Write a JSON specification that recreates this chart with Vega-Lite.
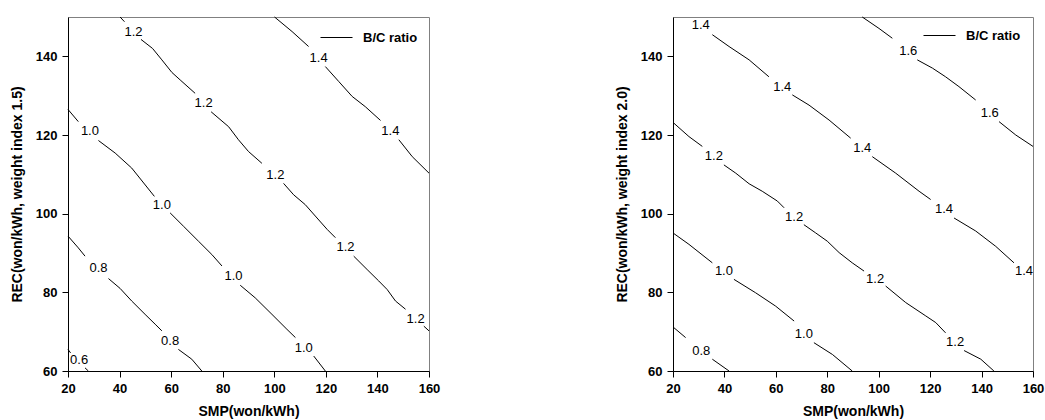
{
  "$schema": "https://vega.github.io/schema/vega-lite/v6.json",
  "padding": {"left": 9, "top": 14, "right": 0, "bottom": 0},
  "background": "white",
  "bounds": "flush",
  "spacing": 244,
  "config": {
    "font": "Liberation Sans",
    "view": {"stroke": "#808080", "strokeWidth": 1},
    "axis": {
      "grid": false,
      "labelFlush": false,
      "domainColor": "black",
      "tickColor": "black",
      "tickSize": 6,
      "labelFont": "Liberation Sans",
      "labelFontSize": 13,
      "labelFontWeight": "bold",
      "labelColor": "black",
      "labelPadding": 5,
      "titleFont": "Liberation Sans",
      "titleFontSize": 14,
      "titleFontWeight": "bold",
      "titleColor": "black"
    },
    "axisX": {"titlePadding": 9},
    "axisY": {"titlePadding": 11},
    "legend": {
      "orient": "none",
      "title": null,
      "symbolType": "stroke",
      "symbolSize": 1024,
      "symbolStrokeWidth": 1,
      "symbolStrokeColor": "black",
      "labelFont": "Liberation Sans",
      "labelFontSize": 13,
      "labelFontWeight": "bold",
      "labelColor": "black",
      "labelOffset": 10,
      "padding": 0
    }
  },
  "resolve": {"scale": {"color": "independent"}, "legend": {"color": "independent"}},
  "datasets": {
    "leftLines": [
      {"s": "L12a", "x": 40.2, "y": 150}, {"s": "L12a", "x": 41.9, "y": 148.8},
      {"s": "L12b", "x": 48.3, "y": 144.3}, {"s": "L12b", "x": 52.8, "y": 142.0}, {"s": "L12b", "x": 56.4, "y": 139.1}, {"s": "L12b", "x": 60.3, "y": 135.9}, {"s": "L12b", "x": 63.5, "y": 134.0}, {"s": "L12b", "x": 69.3, "y": 130.6},
      {"s": "L12c", "x": 75.5, "y": 125.9}, {"s": "L12c", "x": 82.3, "y": 122.1}, {"s": "L12c", "x": 86.1, "y": 118.8}, {"s": "L12c", "x": 90.0, "y": 115.8}, {"s": "L12c", "x": 95.2, "y": 112.8},
      {"s": "L12d", "x": 103.6, "y": 107.7}, {"s": "L12d", "x": 107.5, "y": 104.8}, {"s": "L12d", "x": 112.0, "y": 102.3}, {"s": "L12d", "x": 115.9, "y": 99.4}, {"s": "L12d", "x": 120.5, "y": 96.0}, {"s": "L12d", "x": 123.7, "y": 93.9},
      {"s": "L12e", "x": 130.8, "y": 89.2}, {"s": "L12e", "x": 136.0, "y": 85.8}, {"s": "L12e", "x": 140.5, "y": 82.9}, {"s": "L12e", "x": 143.8, "y": 80.7}, {"s": "L12e", "x": 147.0, "y": 77.8}, {"s": "L12e", "x": 150.9, "y": 75.7},
      {"s": "L12f", "x": 158.0, "y": 71.4}, {"s": "L12f", "x": 160, "y": 70.2},
      {"s": "L14a", "x": 100.1, "y": 150}, {"s": "L14a", "x": 106.9, "y": 146.3}, {"s": "L14a", "x": 113.3, "y": 142.5},
      {"s": "L14b", "x": 119.8, "y": 137.4}, {"s": "L14b", "x": 125.0, "y": 133.6}, {"s": "L14b", "x": 130.2, "y": 129.8}, {"s": "L14b", "x": 135.3, "y": 127.2}, {"s": "L14b", "x": 141.2, "y": 123.7},
      {"s": "L14c", "x": 148.3, "y": 118.8}, {"s": "L14c", "x": 153.5, "y": 114.5}, {"s": "L14c", "x": 160, "y": 110.3},
      {"s": "L10a", "x": 20, "y": 126.5}, {"s": "L10a", "x": 24.0, "y": 123.4},
      {"s": "L10b", "x": 31.8, "y": 118.6}, {"s": "L10b", "x": 38.3, "y": 115.4}, {"s": "L10b", "x": 44.7, "y": 111.6}, {"s": "L10b", "x": 53.5, "y": 104.4},
      {"s": "L10c", "x": 59.6, "y": 100.2}, {"s": "L10c", "x": 64.8, "y": 96.8}, {"s": "L10c", "x": 70.6, "y": 93.0}, {"s": "L10c", "x": 75.8, "y": 89.6}, {"s": "L10c", "x": 79.7, "y": 86.7},
      {"s": "L10d", "x": 86.8, "y": 81.8}, {"s": "L10d", "x": 92.6, "y": 78.6}, {"s": "L10d", "x": 99.1, "y": 74.4}, {"s": "L10d", "x": 104.9, "y": 70.6}, {"s": "L10d", "x": 108.2, "y": 68.5},
      {"s": "L10e", "x": 115.3, "y": 63.8}, {"s": "L10e", "x": 119.8, "y": 60},
      {"s": "L08a", "x": 20, "y": 94.3}, {"s": "L08a", "x": 24.0, "y": 91.3}, {"s": "L08a", "x": 26.6, "y": 89.2},
      {"s": "L08b", "x": 35.7, "y": 83.5}, {"s": "L08b", "x": 40.2, "y": 81.0}, {"s": "L08b", "x": 44.7, "y": 77.8}, {"s": "L08b", "x": 49.9, "y": 74.4}, {"s": "L08b", "x": 53.8, "y": 71.9}, {"s": "L08b", "x": 56.4, "y": 70.2},
      {"s": "L08c", "x": 62.8, "y": 65.5}, {"s": "L08c", "x": 68.0, "y": 63.0}, {"s": "L08c", "x": 71.9, "y": 60},
      {"s": "L06a", "x": 20, "y": 65.5}, {"s": "L06a", "x": 21.0, "y": 64.6},
      {"s": "L06b", "x": 26.6, "y": 60.8}, {"s": "L06b", "x": 27.9, "y": 60}
    ],
    "leftLabels": [
      {"t": "1.2", "x": 45.4, "y": 146.3}, {"t": "1.2", "x": 72.6, "y": 128.2}, {"t": "1.2", "x": 100.4, "y": 109.9}, {"t": "1.2", "x": 127.6, "y": 91.5}, {"t": "1.2", "x": 154.8, "y": 73.1},
      {"t": "1.4", "x": 117.2, "y": 139.7}, {"t": "1.4", "x": 145.0, "y": 121.1},
      {"t": "1.0", "x": 28.5, "y": 120.9}, {"t": "1.0", "x": 56.4, "y": 102.3}, {"t": "1.0", "x": 84.2, "y": 84.1}, {"t": "1.0", "x": 111.4, "y": 65.9},
      {"t": "0.8", "x": 31.8, "y": 86.1}, {"t": "0.8", "x": 59.6, "y": 67.6},
      {"t": "0.6", "x": 24.3, "y": 62.7}
    ],
    "rightLines": [
      {"s": "R14b", "x": 35.3, "y": 145.5}, {"s": "R14b", "x": 41.8, "y": 142.5}, {"s": "R14b", "x": 49.6, "y": 139.1}, {"s": "R14b", "x": 57.3, "y": 134.8},
      {"s": "R14c", "x": 66.4, "y": 130.2}, {"s": "R14c", "x": 72.9, "y": 127.6}, {"s": "R14c", "x": 80.7, "y": 123.8}, {"s": "R14c", "x": 89.1, "y": 119.2},
      {"s": "R14d", "x": 97.5, "y": 114.5}, {"s": "R14d", "x": 106.6, "y": 110.3}, {"s": "R14d", "x": 115.7, "y": 105.7}, {"s": "R14d", "x": 120.2, "y": 103.6},
      {"s": "R14e", "x": 129.3, "y": 98.9}, {"s": "R14e", "x": 137.7, "y": 95.6}, {"s": "R14e", "x": 145.5, "y": 91.7}, {"s": "R14e", "x": 152.6, "y": 87.5},
      {"s": "R16a", "x": 93.6, "y": 150}, {"s": "R16a", "x": 100.1, "y": 147.1}, {"s": "R16a", "x": 105.3, "y": 144.6},
      {"s": "R16b", "x": 115.0, "y": 139.1}, {"s": "R16b", "x": 120.9, "y": 137.0}, {"s": "R16b", "x": 126.0, "y": 134.8}, {"s": "R16b", "x": 131.2, "y": 132.3}, {"s": "R16b", "x": 137.7, "y": 128.9},
      {"s": "R16c", "x": 146.8, "y": 123.4}, {"s": "R16c", "x": 153.3, "y": 120.0}, {"s": "R16c", "x": 160, "y": 117.1},
      {"s": "R12a", "x": 20, "y": 123.2}, {"s": "R12a", "x": 26.2, "y": 119.6}, {"s": "R12a", "x": 31.4, "y": 117.1},
      {"s": "R12b", "x": 39.8, "y": 112.4}, {"s": "R12b", "x": 44.4, "y": 110.3}, {"s": "R12b", "x": 49.6, "y": 107.6}, {"s": "R12b", "x": 54.7, "y": 105.7}, {"s": "R12b", "x": 60.6, "y": 103.2}, {"s": "R12b", "x": 63.2, "y": 101.5},
      {"s": "R12c", "x": 70.9, "y": 97.2}, {"s": "R12c", "x": 75.5, "y": 95.1}, {"s": "R12c", "x": 80.0, "y": 93.0}, {"s": "R12c", "x": 84.6, "y": 90.1}, {"s": "R12c", "x": 89.7, "y": 87.5}, {"s": "R12c", "x": 94.3, "y": 85.4},
      {"s": "R12d", "x": 102.7, "y": 81.6}, {"s": "R12d", "x": 110.5, "y": 77.4}, {"s": "R12d", "x": 118.3, "y": 74.0}, {"s": "R12d", "x": 122.2, "y": 72.3}, {"s": "R12d", "x": 126.0, "y": 69.7},
      {"s": "R12e", "x": 133.2, "y": 65.2}, {"s": "R12e", "x": 139.7, "y": 63.0}, {"s": "R12e", "x": 144.8, "y": 60},
      {"s": "R10a", "x": 20, "y": 95.1}, {"s": "R10a", "x": 26.2, "y": 92.2}, {"s": "R10a", "x": 35.3, "y": 87.5},
      {"s": "R10b", "x": 43.7, "y": 83.3}, {"s": "R10b", "x": 52.1, "y": 79.9}, {"s": "R10b", "x": 59.9, "y": 76.5}, {"s": "R10b", "x": 67.1, "y": 72.7},
      {"s": "R10c", "x": 74.8, "y": 67.2}, {"s": "R10c", "x": 82.0, "y": 64.2}, {"s": "R10c", "x": 89.7, "y": 60},
      {"s": "R08a", "x": 20, "y": 71.2}, {"s": "R08a", "x": 24.9, "y": 68.5},
      {"s": "R08b", "x": 35.3, "y": 63.0}, {"s": "R08b", "x": 41.8, "y": 60}
    ],
    "rightLabels": [
      {"t": "1.4", "x": 30.8, "y": 148.0}, {"t": "1.4", "x": 62.5, "y": 132.3}, {"t": "1.4", "x": 93.6, "y": 116.6}, {"t": "1.4", "x": 125.4, "y": 101.1}, {"t": "1.4", "x": 156.5, "y": 85.4},
      {"t": "1.6", "x": 111.5, "y": 141.4}, {"t": "1.6", "x": 143.2, "y": 125.7},
      {"t": "1.2", "x": 35.9, "y": 114.7}, {"t": "1.2", "x": 67.1, "y": 99.1}, {"t": "1.2", "x": 98.6, "y": 83.5}, {"t": "1.2", "x": 129.7, "y": 67.4},
      {"t": "1.0", "x": 39.8, "y": 85.4}, {"t": "1.0", "x": 70.9, "y": 69.5},
      {"t": "0.8", "x": 31.0, "y": 65.2}
    ]
  },
  "hconcat": [
    {
      "width": 361,
      "height": 354,
      "layer": [
        {
          "data": {"name": "leftLines"},
          "mark": {"type": "line", "strokeWidth": 1, "interpolate": "linear"},
          "encoding": {
            "x": {"field": "x", "type": "quantitative", "scale": {"domain": [20, 160], "nice": false, "zero": false}, "axis": {"values": [20, 40, 60, 80, 100, 120, 140, 160], "title": "SMP(won/kWh)"}},
            "y": {"field": "y", "type": "quantitative", "scale": {"domain": [60, 150], "nice": false, "zero": false}, "axis": {"values": [60, 80, 100, 120, 140], "title": "REC(won/kWh, weight index 1.5)"}},
            "detail": {"field": "s", "type": "nominal"},
            "color": {"datum": "B/C ratio", "type": "nominal", "scale": {"range": ["black"]}, "legend": {"legendX": 252, "legendY": 4}}
          }
        },
        {
          "data": {"name": "leftLabels"},
          "mark": {"type": "text", "font": "Liberation Sans", "fontSize": 13, "color": "black", "align": "center", "baseline": "middle"},
          "encoding": {
            "x": {"field": "x", "type": "quantitative"},
            "y": {"field": "y", "type": "quantitative"},
            "text": {"field": "t", "type": "nominal"}
          }
        }
      ]
    },
    {
      "width": 360,
      "height": 354,
      "layer": [
        {
          "data": {"name": "rightLines"},
          "mark": {"type": "line", "strokeWidth": 1, "interpolate": "linear"},
          "encoding": {
            "x": {"field": "x", "type": "quantitative", "scale": {"domain": [20, 160], "nice": false, "zero": false}, "axis": {"values": [20, 40, 60, 80, 100, 120, 140, 160], "title": "SMP(won/kWh)"}},
            "y": {"field": "y", "type": "quantitative", "scale": {"domain": [60, 150], "nice": false, "zero": false}, "axis": {"values": [60, 80, 100, 120, 140], "title": "REC(won/kWh, weight index 2.0)"}},
            "detail": {"field": "s", "type": "nominal"},
            "color": {"datum": "B/C ratio", "type": "nominal", "scale": {"range": ["black"]}, "legend": {"legendX": 250, "legendY": 2}}
          }
        },
        {
          "data": {"name": "rightLabels"},
          "mark": {"type": "text", "font": "Liberation Sans", "fontSize": 13, "color": "black", "align": "center", "baseline": "middle"},
          "encoding": {
            "x": {"field": "x", "type": "quantitative"},
            "y": {"field": "y", "type": "quantitative"},
            "text": {"field": "t", "type": "nominal"}
          }
        }
      ]
    }
  ]
}
